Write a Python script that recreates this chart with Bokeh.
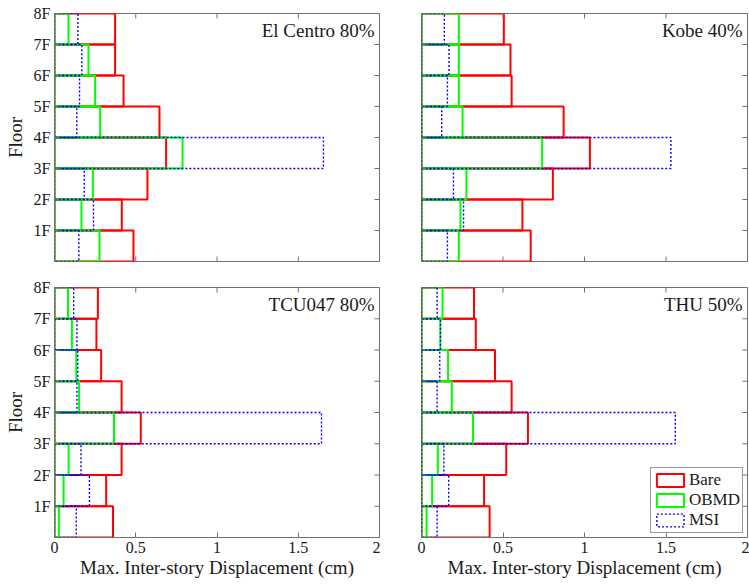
from bokeh.plotting import figure
from bokeh.layouts import column, row
from bokeh.models import FixedTicker, Range1d, Label, Legend, LegendItem
from bokeh.embed import file_html
from bokeh.resources import INLINE

# ---- data ----
floor_labels = ["1F", "2F", "3F", "4F", "5F", "6F", "7F", "8F"]
stories = [1, 2, 3, 4, 5, 6, 7, 8]
x_ticks = [0, 0.5, 1, 1.5, 2]
x_tick_labels = ["0", "0.5", "1", "1.5", "2"]

titles = ["El Centro 80%", "Kobe 40%", "TCU047 80%", "THU 50%"]

elcentro_bare = [0.486, 0.414, 0.572, 0.687, 0.646, 0.425, 0.373, 0.373]
elcentro_obmd = [0.277, 0.166, 0.236, 0.788, 0.281, 0.250, 0.209, 0.086]
elcentro_msi = [0.150, 0.240, 0.183, 1.655, 0.137, 0.154, 0.168, 0.144]

kobe_bare = [0.670, 0.619, 0.806, 1.033, 0.872, 0.553, 0.546, 0.505]
kobe_obmd = [0.229, 0.239, 0.276, 0.740, 0.252, 0.229, 0.229, 0.229]
kobe_msi = [0.159, 0.258, 0.196, 1.530, 0.124, 0.159, 0.169, 0.140]

tcu_bare = [0.360, 0.318, 0.413, 0.531, 0.413, 0.287, 0.258, 0.267]
tcu_obmd = [0.027, 0.056, 0.087, 0.366, 0.151, 0.134, 0.107, 0.083]
tcu_msi = [0.134, 0.215, 0.163, 1.643, 0.138, 0.143, 0.138, 0.118]

thu_bare = [0.418, 0.384, 0.520, 0.653, 0.553, 0.451, 0.333, 0.322]
thu_obmd = [0.031, 0.065, 0.100, 0.316, 0.186, 0.163, 0.116, 0.129]
thu_msi = [0.096, 0.167, 0.137, 1.557, 0.096, 0.112, 0.116, 0.096]

series_names = ["Bare", "OBMD", "MSI"]

FONT = "Liberation Serif"
AX_COL = "#707070"
TXT_COL = "#1a1a1a"
X_MAX, Y_MAX = 2, 8


def make_fig(title, bare, obmd, msi, left_col, top_row, legend=False):
    width = 380 if left_col else 369
    height = 274 if top_row else 310
    p = figure(width=width, height=height, output_backend="svg", toolbar_location=None,
               x_range=Range1d(0, X_MAX), y_range=Range1d(0, Y_MAX),
               min_border_left=54 if left_col else 41,
               min_border_right=1 if left_col else 2,
               min_border_top=13,
               min_border_bottom=13 if top_row else 47)
    p.grid.visible = False
    p.outline_line_color = AX_COL
    p.background_fill_color = "white"

    bottoms = [s - 1 for s in stories]
    rs = []
    for vals, col, lw, dash in [(bare, "#ff0000", 2, "solid"),
                                (obmd, "#00ff00", 2, "solid"),
                                (msi, "#0000ff", 1.4, "2 2")]:
        r = p.quad(left=[0] * len(vals), right=vals, bottom=bottoms, top=stories,
                   fill_color=None, line_color=col, line_width=lw, line_dash=dash)
        rs.append(r)

    # labelled axes
    xa = p.xaxis[0]
    xa.ticker = FixedTicker(ticks=x_ticks)
    xa.major_label_overrides = {t: l for t, l in zip(x_ticks, x_tick_labels)}
    ya = p.yaxis[0]
    ya.ticker = FixedTicker(ticks=stories)
    ya.major_label_overrides = {s: l for s, l in zip(stories, floor_labels)}
    for ax in (xa, ya):
        ax.major_tick_in = 5
        ax.major_tick_out = 0
        ax.minor_tick_line_color = None
        ax.axis_line_color = AX_COL
        ax.major_tick_line_color = AX_COL
        ax.major_label_text_font = FONT
        ax.major_label_text_font_size = "16px"
        ax.major_label_text_color = TXT_COL
        ax.axis_label_text_font = FONT
        ax.axis_label_text_font_size = "19px"
        ax.axis_label_text_font_style = "normal"
        ax.axis_label_text_color = TXT_COL
        ax.major_label_standoff = 4
    if top_row:
        xa.visible = False
    else:
        xa.axis_label = "Max. Inter-story Displacement (cm)"
        xa.axis_label_standoff = 1
    if left_col:
        ya.axis_label = "Floor"
        ya.axis_label_standoff = 5
    else:
        ya.visible = False

    # inward tick marks on the unlabelled sides (derived from the tick arrays)
    tx = 5 * X_MAX / 325.0
    ty = 5 * Y_MAX / 248.0
    tick_kw = dict(line_color=AX_COL, line_width=1)
    p.segment(x0=x_ticks, x1=x_ticks, y0=[Y_MAX] * len(x_ticks),
              y1=[Y_MAX - ty] * len(x_ticks), **tick_kw)
    p.segment(x0=[X_MAX] * len(stories), x1=[X_MAX - tx] * len(stories),
              y0=stories, y1=stories, **tick_kw)
    if top_row:
        p.segment(x0=x_ticks, x1=x_ticks, y0=[0] * len(x_ticks),
                  y1=[ty] * len(x_ticks), **tick_kw)
    if not left_col:
        p.segment(x0=[0] * len(stories), x1=[tx] * len(stories),
                  y0=stories, y1=stories, **tick_kw)

    p.add_layout(Label(x=1.97, y=7.8, text=title, text_align="right", text_baseline="top",
                       text_font=FONT, text_font_size="19px", text_color=TXT_COL))

    if legend:
        leg = Legend(items=[LegendItem(label=n, renderers=[r]) for n, r in zip(series_names, rs)],
                     location="bottom_right",
                     label_text_font=FONT, label_text_font_size="17px",
                     label_text_color=TXT_COL,
                     glyph_width=34, glyph_height=16, label_height=16,
                     label_standoff=2, spacing=0, padding=2, margin=4,
                     border_line_color="#333333", border_line_width=1,
                     background_fill_alpha=1)
        p.add_layout(leg)
    return p


p1 = make_fig(titles[0], elcentro_bare, elcentro_obmd, elcentro_msi, True, True)
p2 = make_fig(titles[1], kobe_bare, kobe_obmd, kobe_msi, False, True)
p3 = make_fig(titles[2], tcu_bare, tcu_obmd, tcu_msi, True, False)
p4 = make_fig(titles[3], thu_bare, thu_obmd, thu_msi, False, False, legend=True)

layout = column(row(p1, p2), row(p3, p4))

open("out.html", "w").write(file_html(layout, INLINE))
